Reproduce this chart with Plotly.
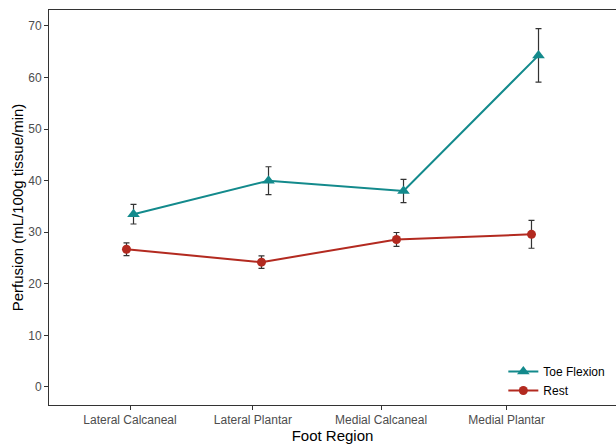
import plotly.graph_objects as go

categories = ["Lateral Calcaneal", "Lateral Plantar", "Medial Calcaneal", "Medial Plantar"]
# category positions on the plot (dodged series sit just either side)
cat_pos = [1, 2, 3, 4]
tick_pos = [1.0, 1.91, 2.86, 3.79]  # where the tick labels appear in the reference
y_ticks = [0, 10, 20, 30, 40, 50, 60, 70]

toe_mean = [33.5, 40.0, 38.0, 64.3]
toe_err = [1.9, 2.7, 2.25, 5.2]
rest_mean = [26.7, 24.2, 28.6, 29.6]
rest_err = [1.25, 1.2, 1.35, 2.7]

dodge = 0.026
teal = "#138A8C"
red = "#B32A20"
grey_txt = "#4D4D4D"

fig = go.Figure()
fig.add_trace(go.Scatter(
    x=[p + dodge for p in cat_pos], y=toe_mean, name="Toe Flexion",
    mode="lines+markers",
    line=dict(color=teal, width=2),
    marker=dict(symbol="triangle-up", size=11, color=teal),
    error_y=dict(type="data", array=toe_err, color="#333333", thickness=1.2, width=3),
))
fig.add_trace(go.Scatter(
    x=[p - dodge for p in cat_pos], y=rest_mean, name="Rest",
    mode="lines+markers",
    line=dict(color=red, width=2),
    marker=dict(symbol="circle", size=9, color=red),
    error_y=dict(type="data", array=rest_err, color="#333333", thickness=1.2, width=3),
))

fig.update_layout(
    width=616, height=445,
    margin=dict(l=49, r=0, t=10, b=40, autoexpand=False),
    paper_bgcolor="white", plot_bgcolor="white",
    font=dict(family="Liberation Sans, Arial, sans-serif", size=12, color="black"),
    showlegend=True,
    legend=dict(x=0.99, xanchor="right", y=0.0, yanchor="bottom",
                bgcolor="rgba(0,0,0,0)", font=dict(size=12, color="black"),
                traceorder="normal", itemwidth=30),
    xaxis=dict(
        range=[0.4, 4.6], tickvals=tick_pos, ticktext=categories,
        showgrid=False, zeroline=False, automargin=False,
        showline=True, linecolor="#333333", linewidth=1, mirror=True,
        ticks="outside", ticklen=4, tickcolor="#333333",
        tickfont=dict(size=12, color=grey_txt),
        title=dict(text="Foot Region", font=dict(size=15, color="black"), standoff=0),
    ),
    yaxis=dict(
        range=[-3.5, 73.1], tickvals=y_ticks,
        showgrid=False, zeroline=False, automargin=False,
        showline=True, linecolor="#333333", linewidth=1, mirror=True,
        ticks="outside", ticklen=4, tickcolor="#333333",
        tickfont=dict(size=12, color=grey_txt),
        title=dict(text="Perfusion (mL/100g tissue/min)", font=dict(size=15, color="black"), standoff=0),
    ),
)

fig.write_html("out.html", config={"displayModeBar": False},
               post_script="document.body.style.margin='0';")
